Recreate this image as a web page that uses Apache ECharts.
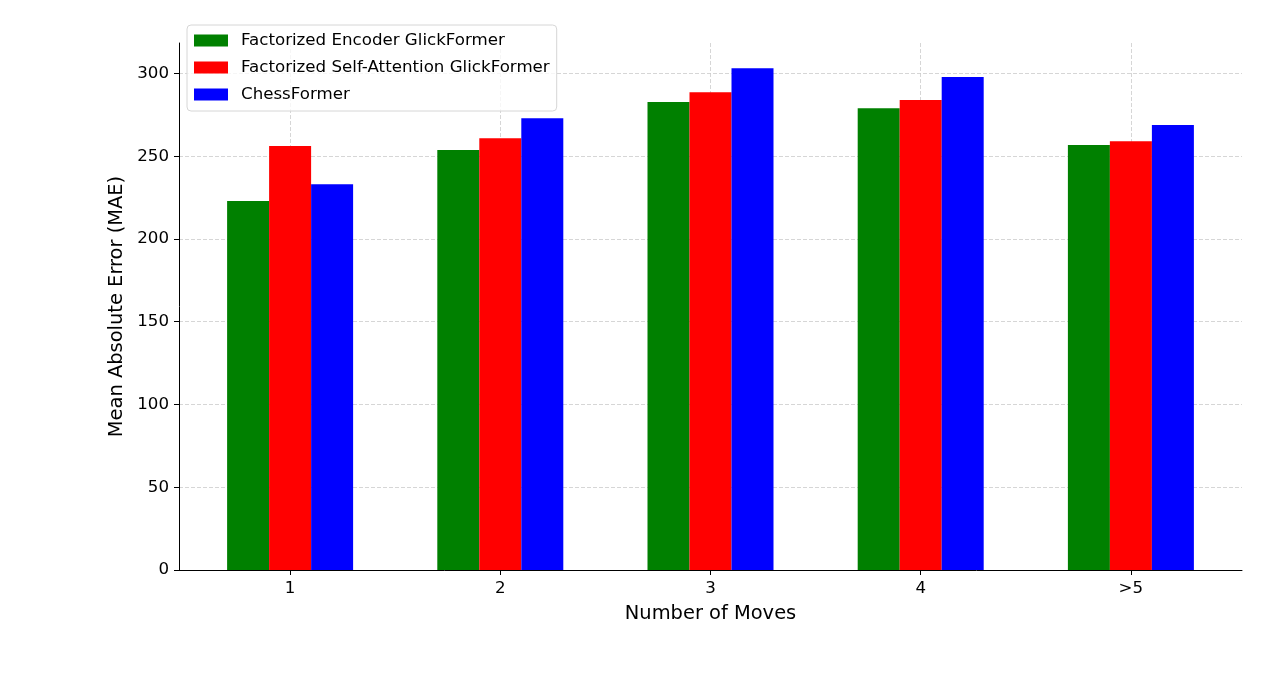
<!DOCTYPE html>
<html>
<head>
<meta charset="utf-8">
<script src="https://cdn.jsdelivr.net/npm/echarts@6/dist/echarts.min.js"></script>
<style>
  html, body { margin: 0; padding: 0; background: #fff; }
  #chart { width: 1280px; height: 692px; }
</style>
</head>
<body>
<div id="chart"></div>
<script>
// data
const moves = ['1', '2', '3', '4', '>5']
const encoderGlick = [222.9, 253.7, 282.7, 279.0, 256.7]
const selfAttnGlick = [256.1, 260.9, 288.7, 283.9, 259.1]
const chessFormer = [233.1, 273.0, 303.2, 297.8, 268.8]
const yTicks = [0, 50, 100, 150, 200, 250, 300]
const xTicks = [0, 1, 2, 3, 4]

const font = 'DejaVu Sans'
const chart = echarts.init(document.getElementById('chart'))

const toPoints = arr => arr.map((v, i) => [i, v])

const gridLine = {
  show: true,
  lineStyle: { color: '#cccccc', type: [4, 2], width: 0.8 }
}

const barSeries = (name, color, values) => ({
  name,
  type: 'bar',
  barWidth: 42,
  barGap: '0%',
  itemStyle: { color },
  data: toPoints(values)
})

const option = {
  animation: false,
  textStyle: { fontFamily: font },
  grid: {
    left: 179,
    right: 38,
    top: 43,
    bottom: 122,
    containLabel: false
  },
  legend: {
    orient: 'vertical',
    left: 187,
    top: 25,
    padding: [7, 7, 8, 7],
    itemWidth: 34,
    itemHeight: 12,
    itemGap: 10,
    backgroundColor: 'rgba(255,255,255,0.8)',
    borderColor: '#d6d6d6',
    borderWidth: 1,
    borderRadius: 4,
    icon: 'rect',
    textStyle: {
      fontFamily: font,
      fontSize: 16.67,
      color: '#000',
      padding: [0, 0, 0, 8]
    },
    data: ['Factorized Encoder GlickFormer', 'Factorized Self-Attention GlickFormer', 'ChessFormer']
  },
  xAxis: {
    type: 'value',
    min: -0.5286,
    max: 4.5286,
    interval: 1,
    name: 'Number of Moves',
    nameLocation: 'middle',
    nameGap: 34,
    nameTextStyle: { fontFamily: font, fontSize: 19.44, color: '#000' },
    axisLine: { show: true, onZero: false, lineStyle: { color: '#000', width: 1 } },
    axisTick: { show: true, length: 5, customValues: xTicks, lineStyle: { color: '#000' } },
    axisLabel: {
      customValues: xTicks,
      fontFamily: font,
      fontSize: 16.67,
      color: '#000',
      margin: 10,
      formatter: v => moves[Math.round(v)]
    },
    splitLine: gridLine
  },
  yAxis: {
    type: 'value',
    min: 0,
    max: 318.4,
    interval: 50,
    name: 'Mean Absolute Error (MAE)',
    nameLocation: 'middle',
    nameGap: 44,
    nameTextStyle: { fontFamily: font, fontSize: 19.44, color: '#000' },
    axisLine: { show: true, onZero: false, lineStyle: { color: '#000', width: 1 } },
    axisTick: { show: true, length: 5, customValues: yTicks, lineStyle: { color: '#000' } },
    axisLabel: {
      customValues: yTicks,
      fontFamily: font,
      fontSize: 16.67,
      color: '#000',
      margin: 10
    },
    splitLine: gridLine
  },
  series: [
    barSeries('Factorized Encoder GlickFormer', '#008000', encoderGlick),
    barSeries('Factorized Self-Attention GlickFormer', '#ff0000', selfAttnGlick),
    barSeries('ChessFormer', '#0000ff', chessFormer)
  ]
}

chart.setOption(option)
</script>
</body>
</html>
